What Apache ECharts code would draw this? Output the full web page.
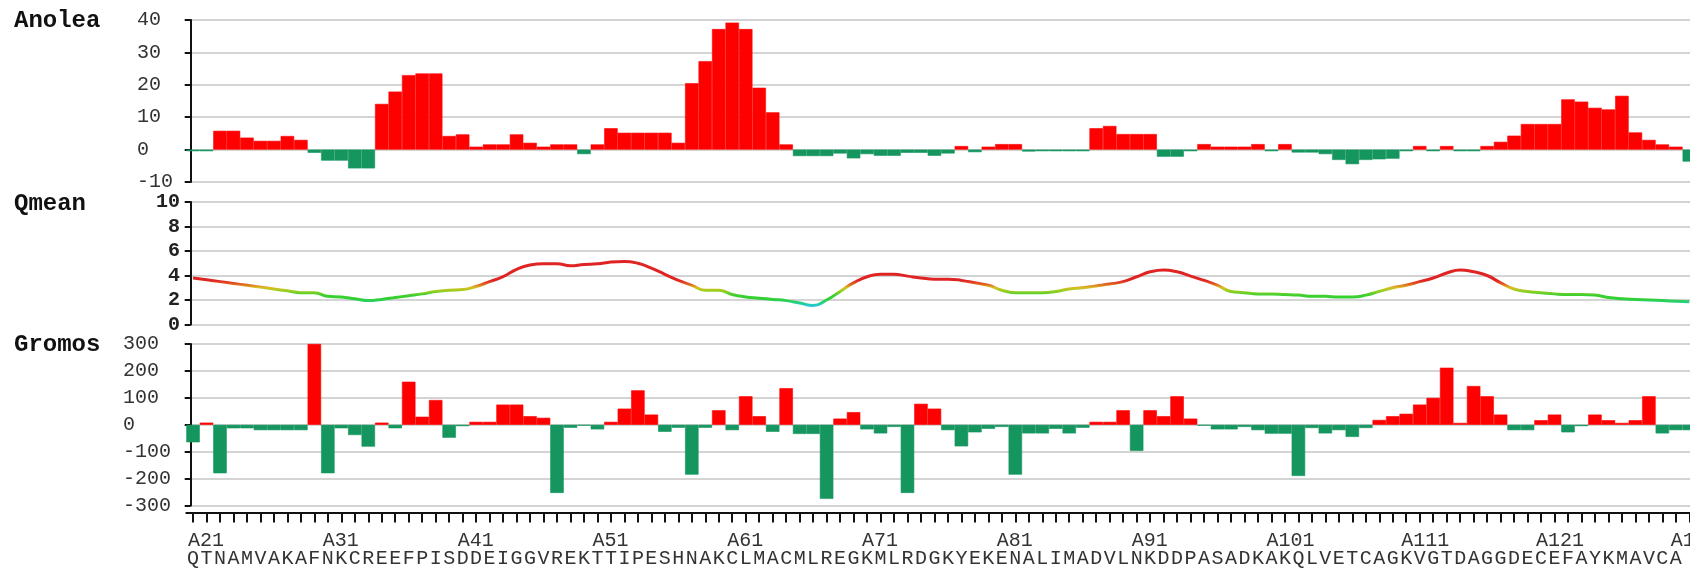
<!DOCTYPE html>
<html>
<head>
<meta charset="utf-8">
<script src="https://cdn.jsdelivr.net/npm/echarts@6/dist/echarts.min.js"></script>
<style>
html,body{margin:0;padding:0;background:#fff;}
#c{width:1690px;height:569px;}
</style>
</head>
<body>
<div id="c"></div>
<script>
// ---------- data ----------
const residues = [21,22,23,24,25,26,27,28,29,30,31,32,33,34,35,36,37,38,39,40,
  41,42,43,44,45,46,47,48,49,50,51,52,53,54,55,56,57,58,59,60,
  61,62,63,64,65,66,67,68,69,70,71,72,73,74,75,76,77,78,79,80,
  81,82,83,84,85,86,87,88,89,90,91,92,93,94,95,96,97,98,99,100,
  101,102,103,104,105,106,107,108,109,110,111,112,113,114,115,116,117,118,119,120,
  121,122,123,124,125,126,127,128,129,130,131,132];

const sequence = ['Q','T','N','A','M','V','A','K','A','F',
  'N','K','C','R','E','E','F','P','I','S',
  'D','D','E','I','G','G','V','R','E','K',
  'T','T','I','P','E','S','H','N','A','K',
  'C','L','M','A','C','M','L','R','E','G',
  'K','M','L','R','D','G','K','Y','E','K',
  'E','N','A','L','I','M','A','D','V','L',
  'N','K','D','D','P','A','S','A','D','K',
  'A','K','Q','L','V','E','T','C','A','G',
  'K','V','G','T','D','A','G','G','D','E',
  'C','E','F','A','Y','K','M','A','V','C',
  'A',''];

const anolea = [-0.5,-0.5,5.8,5.8,3.7,2.7,2.7,4.2,3.0,-1.0,
  -3.4,-3.4,-5.8,-5.8,14.1,17.9,23.0,23.5,23.5,4.2,
  4.7,0.9,1.6,1.6,4.7,2.1,0.9,1.6,1.6,-1.4,
  1.6,6.6,5.2,5.2,5.2,5.2,2.1,20.5,27.3,37.2,
  39.2,37.2,19.1,11.5,1.6,-2.0,-2.0,-2.0,-1.2,-2.7,
  -1.4,-1.9,-1.9,-1.0,-1.0,-1.9,-1.2,1.1,-0.8,0.9,
  1.7,1.7,-0.6,-0.5,-0.5,-0.5,-0.5,6.6,7.3,4.8,
  4.8,4.8,-2.2,-2.2,-0.5,1.7,0.9,0.9,0.9,1.7,
  -0.5,1.7,-0.9,-0.9,-1.4,-3.2,-4.5,-3.2,-3.0,-2.8,
  -0.5,1.1,-0.5,1.1,-0.5,-0.5,1.1,2.4,4.3,7.9,
  7.9,7.9,15.5,14.8,12.9,12.4,16.6,5.3,3.0,1.6,
  0.9,-3.7];

const qmean = [3.8,3.65,3.5,3.35,3.2,3.05,2.9,2.75,2.6,2.6,
  2.3,2.25,2.1,1.95,2.05,2.2,2.35,2.5,2.7,2.8,
  2.85,3.1,3.5,3.9,4.5,4.85,4.95,4.95,4.8,4.9,
  4.95,5.1,5.15,5.0,4.6,4.1,3.6,3.2,2.8,2.8,
  2.45,2.25,2.15,2.05,1.95,1.75,1.55,2.0,2.7,3.4,
  3.9,4.1,4.1,3.95,3.8,3.7,3.7,3.6,3.4,3.2,
  2.8,2.6,2.6,2.6,2.7,2.9,3.0,3.15,3.3,3.5,
  3.9,4.3,4.45,4.3,3.95,3.6,3.2,2.7,2.6,2.5,
  2.5,2.45,2.4,2.3,2.3,2.25,2.25,2.4,2.7,3.0,
  3.2,3.5,3.8,4.2,4.45,4.3,4.0,3.4,2.9,2.7,
  2.6,2.5,2.45,2.45,2.4,2.2,2.1,2.05,2.0,1.95,
  1.9,1.85];

const gromos = [-65,8,-180,-13,-13,-20,-20,-20,-20,300,
  -180,-13,-38,-81,8,-13,160,30,92,-48,
  -5,11,11,75,75,32,26,-253,-11,-3,
  -17,11,60,128,38,-26,-11,-185,-11,54,
  -20,106,32,-26,136,-34,-34,-275,23,47,
  -17,-32,-8,-253,78,60,-20,-80,-28,-15,
  -8,-185,-32,-32,-15,-32,-11,11,11,54,
  -97,54,32,106,23,-3,-17,-17,-8,-20,
  -33,-33,-190,-12,-32,-20,-45,-12,18,32,
  41,75,100,212,7,144,106,38,-20,-20,
  17,38,-28,-5,38,17,7,17,106,-32,
  -20,-20];

const anoleaTicks = {min:-10, max:40, interval:10};
const qmeanTicks  = {min:0, max:10, interval:2};
const gromosTicks = {min:-300, max:300, interval:100};
const panelTitles = ['Anolea','Qmean','Gromos'];

// ---------- style / layout ----------
const FONT = '"Liberation Mono","DejaVu Sans Mono",monospace';
const RED = '#ff0000';
const GREEN = '#15965f';
const CELL = 13.48;
const LEFT = 186.3;
const W = CELL * residues.length;

const chart = echarts.init(document.getElementById('c'), null, {renderer:'canvas'});

function barItems(values) {
  return values.map(v => {
    const c = v > 0 ? RED : GREEN;
    return {value: v, itemStyle: {color: c, borderColor: c, borderWidth: 0.6}};
  });
}

function yAx(gi, t, align, margin, bold) {
  return {
    type:'value', gridIndex:gi, min:t.min, max:t.max, interval:t.interval, offset:-4.4,
    axisLine:{show:true, lineStyle:{color:'#111', width:2}},
    axisTick:{show:true, length:6, lineStyle:{color:'#111', width:2}},
    axisLabel:{align:align, margin:margin, fontFamily:FONT, fontSize:20,
               fontWeight: bold ? 'bold' : 'normal', color: bold ? '#222' : '#333'},
    splitLine:{show:true, lineStyle:{color:'#d4d4d4', width:2}}
  };
}

const titleStyle = {fontFamily:FONT, fontWeight:'bold', fontSize:24, lineHeight:24, color:'#111'};

function gridAt(top, height) {
  return {left:LEFT, top:top, width:W, height:height, containLabel:false, outerBoundsMode:'none'};
}

chart.setOption({
  animation:false,
  backgroundColor:'#fff',
  title:[
    {text:panelTitles[0], left:14, top:8.5, padding:0, textStyle:titleStyle},
    {text:panelTitles[1], left:14, top:191.5, padding:0, textStyle:titleStyle},
    {text:panelTitles[2], left:14, top:333, padding:0, textStyle:titleStyle}
  ],
  grid:[gridAt(20, 162), gridAt(202, 122.5), gridAt(344, 161.6), gridAt(344, 161.6)],
  xAxis:[
    {type:'category', gridIndex:0, data:residues, show:false},
    {type:'category', gridIndex:1, data:residues, show:false},
    {type:'category', gridIndex:2, data:residues, position:'bottom', offset:7,
     axisLine:{show:true, onZero:false, lineStyle:{color:'#111', width:2}},
     axisTick:{show:true, alignWithLabel:true, interval:0, length:10, lineStyle:{color:'#111', width:2}},
     axisLabel:{show:true, interval:0, margin:36, fontFamily:FONT, fontSize:20, color:'#333',
                formatter:(v, i) => sequence[i]},
     splitLine:{show:false}},
    {type:'category', gridIndex:3, data:residues, position:'bottom', offset:7,
     axisLine:{show:false, onZero:false}, axisTick:{show:false},
     axisLabel:{show:true, interval:0, align:'center', margin:18,
                formatter:v => (Number(v) % 10 === 1 ? '{a|A' + v + '}' : ''),
                rich:{a:{width:10, align:'left', fontFamily:FONT, fontSize:20, color:'#333'}}},
     splitLine:{show:false}}
  ],
  yAxis:[
    yAx(0, anoleaTicks, 'left', 53.7, false),
    yAx(1, qmeanTicks, 'right', 10.7, true),
    yAx(2, gromosTicks, 'left', 67.7, false),
    {type:'value', gridIndex:3, show:false}
  ],
  visualMap:{
    show:false, type:'continuous', seriesIndex:1, dimension:1, min:1.5, max:3.6,
    inRange:{color:['#20c8e0','#28d080','#30d030','#40d030','#90d020','#d8c020','#e06020','#e02424']}
  },
  series:[
    {type:'bar', xAxisIndex:0, yAxisIndex:0, data:barItems(anolea), barWidth:'100%', barGap:'0%'},
    {type:'line', xAxisIndex:1, yAxisIndex:1, data:qmean, smooth:true, symbol:'none',
     lineStyle:{width:3}},
    {type:'bar', xAxisIndex:2, yAxisIndex:2, data:barItems(gromos), barWidth:'100%', barGap:'0%'}
  ]
});
</script>
</body>
</html>
